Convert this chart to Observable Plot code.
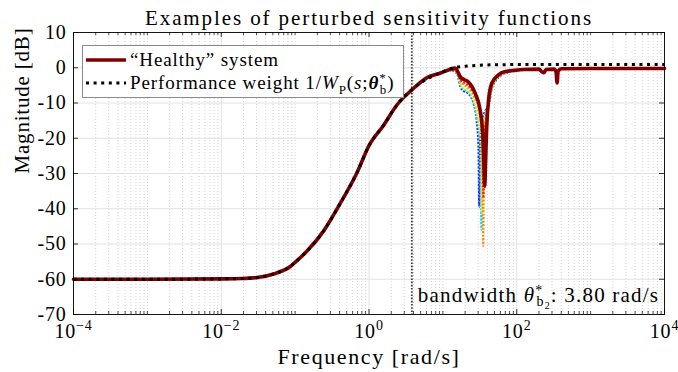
<!DOCTYPE html>
<html><head><meta charset="utf-8">
<script src="https://cdn.jsdelivr.net/npm/d3@7"></script>
<script src="https://cdn.jsdelivr.net/npm/@observablehq/plot@0.6"></script>
<style>
body{margin:0;background:#fff;}
#wrap{position:relative;width:678px;height:372px;font-family:"Liberation Serif","Times New Roman",serif;color:#000;}
#wrap svg{display:block;}
#wrap svg text{letter-spacing:0.8px;font-family:"Liberation Serif","Times New Roman",serif;}
#legend{position:absolute;left:82px;top:45px;width:322px;height:53px;background:#fff;border:1px solid #8a8a8a;box-sizing:border-box;font-size:19px;letter-spacing:0.9px;}
#legend .row{position:absolute;left:0;height:22px;line-height:22px;white-space:nowrap;}
#legend .row svg{position:absolute;left:3px;top:6px;}
#legend .row span.t{position:absolute;left:47px;top:0;}
#legend sub,#legend sup{font-size:13px;line-height:0;}
</style></head><body><div id="wrap"></div>
<script>
// ---------- data ----------
const titleText = "Examples of perturbed sensitivity functions";
const xLabel = "Frequency [rad/s]";
const yLabel = "Magnitude [dB]";
const xTickExponents = [-4, -2, 0, 2, 4];
const yTickValues = [10, 0, -10, -20, -30, -40, -50, -60, -70];
const bandwidth = 3.80; // rad/s

// performance weight 1/W_P(s; theta_b*)
const weightFreq = [1e-4, 1e-3, 0.01, 0.019, 0.031, 0.051, 0.087, 0.1, 0.145, 0.245, 0.41, 0.69, 1.0, 1.58, 2.4, 3.8, 6.2, 9.3, 13.9, 20, 40, 100, 1e3, 1e4];
const weightDb   = [-60, -60, -59.9, -59.8, -59.5, -58.5, -56.3, -55.2, -52, -46.2, -38.4, -29.7, -22.1, -16.3, -10.5, -6.2, -3.1, -1.4, 0, 0.4, 0.8, 0.9, 0.9, 0.9];

// healthy system
const healthyFreq = [1e-4, 1e-3, 0.01, 0.019, 0.031, 0.051, 0.087, 0.1, 0.145, 0.245, 0.41, 0.69, 1.0, 1.58, 2.4, 3.8, 6.1, 9.3, 12.5, 14.7, 17.5, 19.5, 22, 27.4, 32.0, 34.7, 36.0, 36.9, 37.8, 39.2, 41.5, 45.9, 56.6, 68.3, 89, 126, 200, 220, 232, 250, 320, 339, 352, 363, 400, 1e3, 1e4];
const healthyDb   = [-60, -60, -59.9, -59.8, -59.5, -58.5, -56.3, -55.2, -52, -46.2, -38.4, -29.7, -22.1, -16.3, -10.5, -6.3, -2.8, -1.5, -0.5, -0.1, -2.8, -3.4, -4.0, -7.3, -12.1, -19, -28, -33.6, -27, -17, -9.2, -4.4, -2.0, -1.1, -0.8, -0.5, -0.4, -1.2, -1.4, -0.5, -0.4, -1.0, -4.3, -1.0, -0.3, -0.2, -0.2];

// perturbed systems (only where they differ from the healthy one)
const blueFreq   = [12, 15.4, 17.2, 18.8, 21, 23.5, 26, 28.6, 30.2, 31.0, 31.8, 34, 38, 42, 46, 52, 60, 72, 95];
const blueDb     = [-0.6, -1.5, -5.3, -6.6, -7.0, -8.0, -10.2, -15, -22, -39.4, -22, -15, -12, -10.5, -6.0, -3.7, -2.3, -1.5, -0.9];
const cyanFreq   = [12, 15.4, 17.2, 18.8, 21, 23.5, 26, 28.6, 31.5, 33.3, 34.2, 36, 39, 42, 46, 52, 60, 72, 95];
const cyanDb     = [-0.6, -1.4, -4.8, -6.1, -6.6, -7.6, -9.6, -13.5, -20, -46, -22, -15, -12, -10.3, -5.8, -3.6, -2.2, -1.4, -0.9];
const yellowFreq = [12, 15.4, 17.2, 18.8, 21, 23.5, 26, 29, 32.5, 34.0, 35.0, 37, 40, 42, 46, 52, 60, 72, 95];
const yellowDb   = [-0.6, -1.3, -4.3, -5.6, -6.1, -7.1, -9.0, -12.5, -20, -41, -22, -15, -11.5, -10, -5.6, -3.4, -2.1, -1.3, -0.8];
const orangeFreq = [12, 15.4, 17.2, 19, 21.5, 24, 27, 30.5, 33.8, 35.2, 36.2, 38, 40, 42, 46, 52, 60, 72, 95];
const orangeDb   = [-0.6, -1.2, -3.8, -4.8, -5.5, -6.5, -8.5, -12, -20, -50.6, -22, -15, -12, -9.8, -5.4, -3.2, -2.0, -1.3, -0.8];
const redFreq    = [12, 15.4, 17.2, 19.5, 22, 25, 28, 31.5, 34.2, 35.4, 36.4, 38, 40, 42, 46, 52, 60, 72, 95];
const redDb      = [-0.6, -1.1, -3.4, -4.3, -5.0, -6.3, -8.2, -12, -20, -36.9, -22, -15, -12, -9.6, -5.2, -3.0, -1.9, -1.2, -0.7];
const perturbedColors = ["#1432ff", "#19d2ff", "#f2ee00", "#ff8a00", "#ff1a0a"];

// ---------- build ----------
const toRows = (f, m) => f.map((v, i) => ({f: v, db: m[i]}));
const weight = toRows(weightFreq, weightDb);
const healthy = toRows(healthyFreq, healthyDb);
const perturbed = [[blueFreq, blueDb], [cyanFreq, cyanDb], [yellowFreq, yellowDb], [orangeFreq, orangeDb], [redFreq, redDb]].map(([f, m]) => toRows(f, m));

const W = 678, H = 372, mL = 73, mR = 14, mT = 32, mB = 58;
const pw = W - mL - mR, ph = H - mT - mB;
const xMajor = xTickExponents.map(e => Math.pow(10, e));
const xMinor = [];
for (let e = -4; e < 4; e++) for (let k = 1; k < 10; k++) {
  const v = k * Math.pow(10, e);
  if (!(k === 1 && e % 2 === 0)) xMinor.push(v);
}
const FONT = '"Liberation Serif","Times New Roman",serif';

const chart = Plot.plot({
  width: W, height: H,
  marginLeft: mL, marginRight: mR, marginTop: mT, marginBottom: mB,
  style: {fontFamily: FONT, background: "#fff", overflow: "visible"},
  x: {type: "log", domain: [1e-4, 1e4], axis: null},
  y: {domain: [-70, 10], axis: null},
  marks: [
    Plot.ruleX(xMinor, {stroke: "#d2d2d2", strokeDasharray: "1,2", strokeWidth: 1}),
    Plot.ruleX(xMajor, {stroke: "#e2e2e2", strokeWidth: 1}),
    Plot.ruleY(yTickValues, {stroke: "#e2e2e2", strokeWidth: 1}),
    Plot.tickX(xMajor, {x: d => d, insetTop: ph - 5, stroke: "#000", strokeWidth: 0.8}),
    Plot.tickX(xMajor, {x: d => d, insetBottom: ph - 5, stroke: "#000", strokeWidth: 0.8}),
    Plot.tickX(xMinor, {x: d => d, insetTop: ph - 3, stroke: "#000", strokeWidth: 0.7}),
    Plot.tickX(xMinor, {x: d => d, insetBottom: ph - 3, stroke: "#000", strokeWidth: 0.7}),
    Plot.tickY(yTickValues, {y: d => d, insetRight: pw - 5, stroke: "#000", strokeWidth: 0.8}),
    Plot.tickY(yTickValues, {y: d => d, insetLeft: pw - 5, stroke: "#000", strokeWidth: 0.8}),
    Plot.ruleX([bandwidth], {stroke: "#3a3a3a", strokeWidth: 1.8, strokeDasharray: "1.6,1.6"}),
    ...perturbed.map((rows, i) => Plot.line(rows, {x: "f", y: "db", curve: "monotone-x", stroke: perturbedColors[i], strokeWidth: 2, strokeDasharray: "2,1.5", strokeLinecap: "butt"})),
    Plot.line(healthy, {x: "f", y: "db", curve: "monotone-x", stroke: "#800000", strokeWidth: 3.6, strokeLinejoin: "round"}),
    Plot.line(weight, {x: "f", y: "db", curve: "monotone-x", stroke: "#000", strokeWidth: 3, strokeDasharray: "3,4.6", strokeLinecap: "butt"}),
    Plot.frame({stroke: "#000", strokeWidth: 0.9}),
    Plot.text(xTickExponents, {x: d => Math.pow(10, d), frameAnchor: "bottom", lineAnchor: "middle", dy: 17, text: d => "10^" + d, fontSize: 20}),
    Plot.text(yTickValues, {y: d => d, frameAnchor: "left", lineAnchor: "middle", dx: -7, textAnchor: "end", text: d => String(d), fontSize: 20}),
    Plot.text([xLabel], {frameAnchor: "bottom", lineAnchor: "middle", dy: 42, text: d => d, fontSize: 22}),
    Plot.text([yLabel], {frameAnchor: "left", lineAnchor: "middle", dx: -51, rotate: -90, text: d => d, fontSize: 21}),
    Plot.text([titleText], {frameAnchor: "top", lineAnchor: "middle", dy: -14, text: d => d, fontSize: 21}),
    Plot.text([bandwidth], {x: d => d, frameAnchor: "bottom", lineAnchor: "middle", dy: -19, dx: 6, textAnchor: "start", text: d => "bw|" + d.toFixed(2), fontSize: 21})
  ]
});

const wrap = document.getElementById("wrap");
wrap.appendChild(chart);

const NS = "http://www.w3.org/2000/svg";
chart.querySelectorAll("text").forEach(t => {
  const c = t.textContent;
  const mk = (txt, attrs) => { const s = document.createElementNS(NS, "tspan"); for (const k in attrs) s.setAttribute(k, attrs[k]); s.textContent = txt; t.appendChild(s); return s; };
  if (c.startsWith("10^")) {
    // superscript exponents on x tick labels
    const e = c.split("^")[1];
    t.textContent = "10";
    mk(e.replace("-", "\u2212"), {dy: "-8", "font-size": "14"});
  } else if (c.startsWith("bw|")) {
    // bandwidth annotation with theta*_{b2}
    const val = c.split("|")[1];
    t.style.letterSpacing = "1.2px";
    t.textContent = "bandwidth ";
    mk("\u03B8", {"font-style": "italic"});
    mk("*", {dy: "-7", "font-size": "14"});
    mk("b", {dy: "11", dx: "-7", "font-size": "14"});
    mk("2", {dy: "3", "font-size": "10"});
    mk(": " + val + " rad/s", {dy: "-7"});
  } else if (c === titleText) {
    t.style.letterSpacing = "1.9px";
  } else if (c === xLabel) {
    t.style.letterSpacing = "1.6px";
  }
});

// legend
const lg = document.createElement("div");
lg.id = "legend";
lg.innerHTML =
  '<div class="row" style="top:3px;width:100%"><svg width="42" height="10"><line x1="0" x2="40" y1="5" y2="5" stroke="#800000" stroke-width="3.6"/></svg><span class="t">\u201CHealthy\u201D system</span></div>' +
  '<div class="row" style="top:26px;width:100%"><svg width="42" height="10"><line x1="0" x2="40" y1="5" y2="5" stroke="#000" stroke-width="3" stroke-dasharray="3,4.6"/></svg><span class="t">Performance weight 1/<i>W</i><sub>P</sub>(<i>s</i>;<b><i>\u03B8</i></b><sup>*</sup><sub style="margin-left:-7px">b</sub>)</span></div>';
wrap.appendChild(lg);
</script>
</body></html>
